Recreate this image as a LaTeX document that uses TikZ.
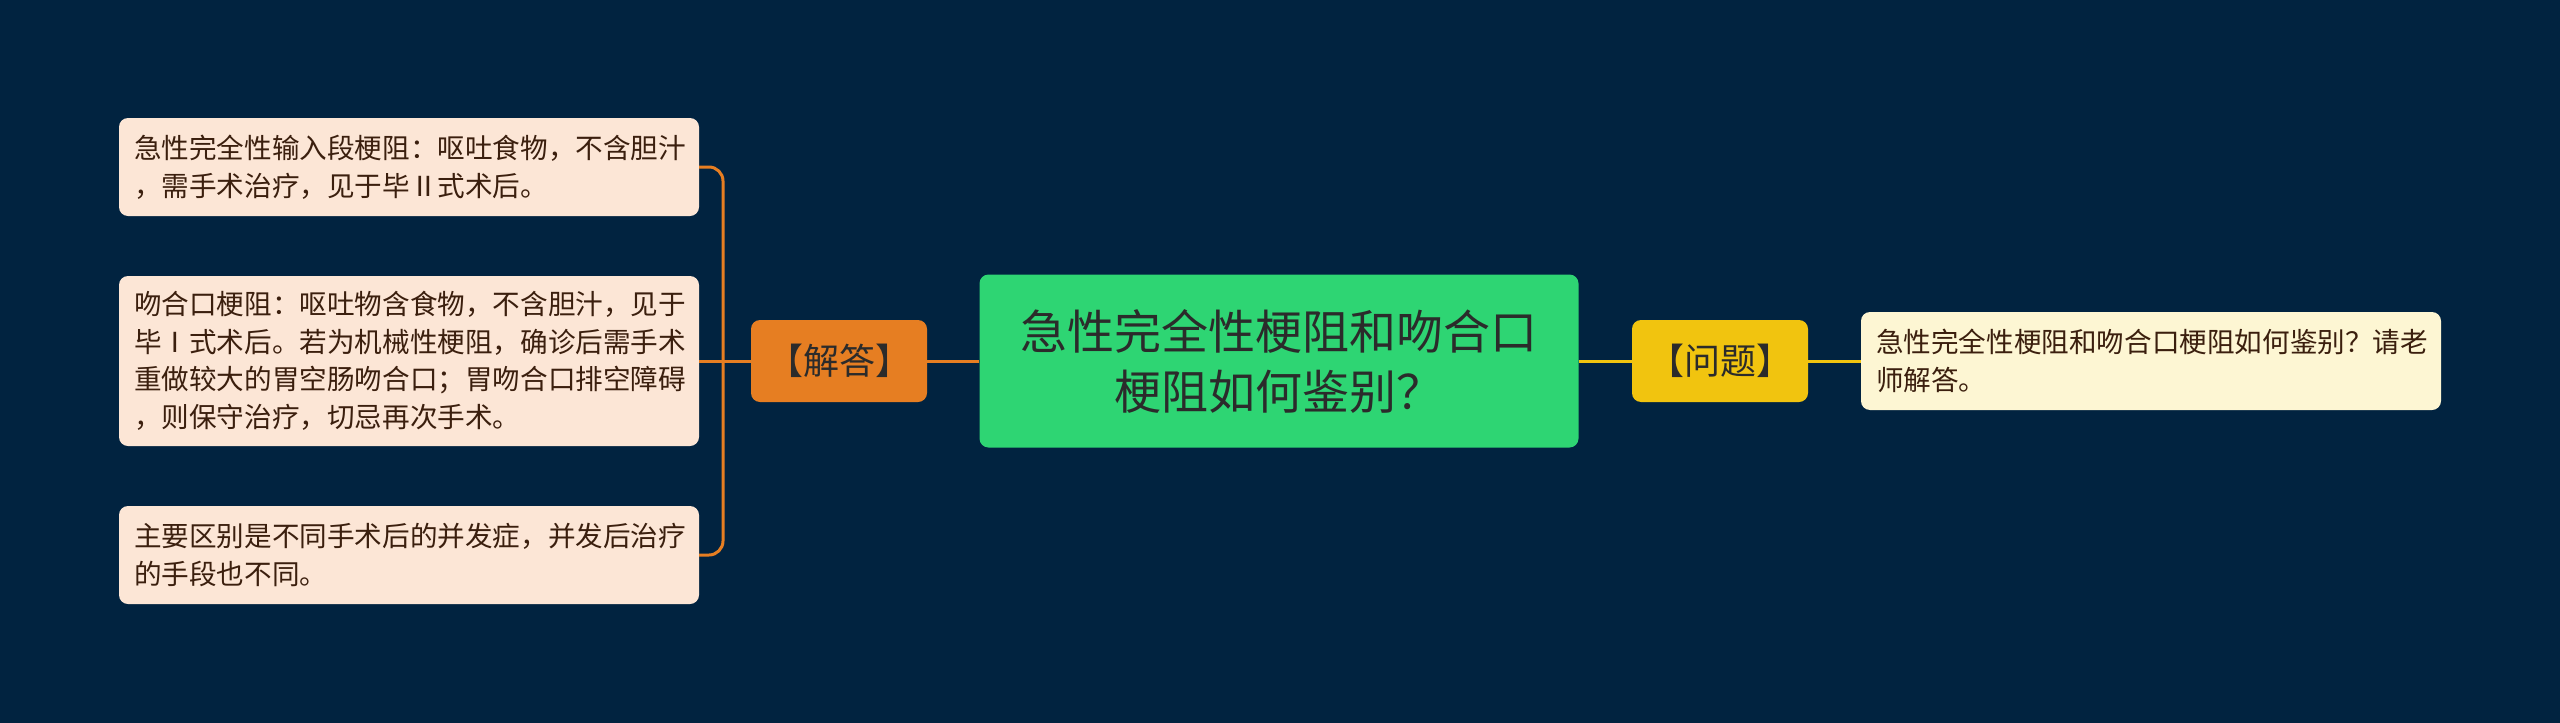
\documentclass[tikz,border=0pt]{standalone}
\usepackage{fontspec}
\setmainfont{Noto Sans CJK SC}
\usepackage{xcolor}
\usetikzlibrary{positioning}

\definecolor{bgnavy}{HTML}{012340}
\definecolor{rootgreen}{HTML}{2ED573}
\definecolor{answerorange}{HTML}{E67E22}
\definecolor{askyellow}{HTML}{F1C40F}
\definecolor{leafpeach}{HTML}{FCE6D6}
\definecolor{leafcream}{HTML}{FDF6D3}
\definecolor{leaftext}{HTML}{3B1F0E}
\definecolor{roottext}{HTML}{2B2B2B}

\tikzset{
  rootbox/.style={fill=rootgreen, rounded corners=9pt, minimum width=599pt, minimum height=173pt,
    align=center, inner sep=0pt, text=roottext, font=\fontsize{47}{60}\selectfont},
  tagbox/.style={rounded corners=9pt, minimum width=176pt, minimum height=82pt,
    inner sep=0pt, text=roottext, font=\fontsize{36}{40}\selectfont},
  leaf/.style={rounded corners=9pt, inner sep=0pt, minimum width=580pt, text width=550pt,
    align=left, text=leaftext, font=\fontsize{27.6}{37.5}\selectfont},
  answerline/.style={draw=answerorange, line width=3pt},
  askline/.style={draw=askyellow, line width=3pt}
}

\begin{document}
\begin{tikzpicture}[x=1pt,y=-1pt]
    % background
    \fill[bgnavy] (0,0) rectangle (2560,723);

    % centre topic
    \node[rootbox] (root) at (1279,361) {急性完全性梗阻和吻合口\\梗阻如何鉴别？};

    % branch tags
    \node[tagbox, fill=answerorange] (jieda) at (839,361) {【解答】};
    \node[tagbox, fill=askyellow] (wenti) at (1720,361) {【问题】};

    % question leaf
    \node[leaf, fill=leafcream, minimum height=98pt] (ask) at (2151,361)
        {急性完全性梗阻和吻合口梗阻如何鉴别？请老\\师解答。};

    % answer leaves
    \node[leaf, fill=leafpeach, minimum height=98pt] (ans1) at (409,167)
        {急性完全性输入段梗阻：呕吐食物，不含胆汁\\，需手术治疗，见于毕Ⅱ式术后。};
    \node[leaf, fill=leafpeach, minimum height=170pt] (ans2) at (409,361)
        {吻合口梗阻：呕吐物含食物，不含胆汁，见于\\毕Ⅰ式术后。若为机械性梗阻，确诊后需手术\\重做较大的胃空肠吻合口；胃吻合口排空障碍\\，则保守治疗，切忌再次手术。};
    \node[leaf, fill=leafpeach, minimum height=98pt] (ans3) at (409,555)
        {主要区别是不同手术后的并发症，并发后治疗\\的手段也不同。};

    % connectors
    \coordinate (fork) at (723,361);
    \draw[answerline] (root.west) -- (jieda.east);
    \draw[answerline] (jieda.west) -- (ans2.east);
    \draw[answerline, rounded corners=14pt] (ans1.east) -| (fork) |- (ans3.east);
    \draw[askline] (root.east) -- (wenti.west);
    \draw[askline] (wenti.east) -- (ask.west);
\end{tikzpicture}
\end{document}
